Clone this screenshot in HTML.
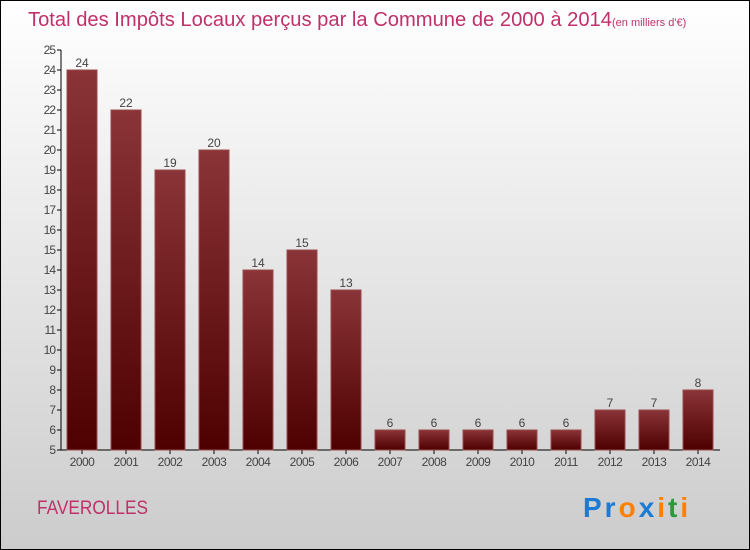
<!DOCTYPE html>
<html><head><meta charset="utf-8"><style>
body{margin:0;width:750px;height:550px;overflow:hidden}
svg{display:block}
</style></head><body>
<svg width="750" height="550" font-family="'Liberation Sans', sans-serif">
<defs>
<linearGradient id="bg" x1="0" y1="0" x2="0" y2="1"><stop offset="0" stop-color="#ffffff"/><stop offset="1" stop-color="#cccccc"/></linearGradient>
<linearGradient id="bar" x1="0" y1="0" x2="0" y2="1"><stop offset="0" stop-color="#8a3438"/><stop offset="1" stop-color="#4e0000"/></linearGradient>
</defs>
<rect x="0.5" y="0.5" width="749" height="549" fill="url(#bg)" stroke="#000"/>
<text x="28" y="26" font-size="20" fill="#c0306a"><tspan textLength="584" lengthAdjust="spacingAndGlyphs">Total des Impôts Locaux perçus par la Commune de 2000 à 2014</tspan><tspan font-size="11">(en milliers d'€)</tspan></text>
<g id="axes"></g>
<g id="bars"></g>
<text x="37" y="514" font-size="19" fill="#c0306a" textLength="111" lengthAdjust="spacingAndGlyphs">FAVEROLLES</text>
<text x="583" y="517" font-size="28" font-weight="bold" letter-spacing="3"><tspan fill="#1a7ad4">Pr</tspan><tspan fill="#ff8000">o</tspan><tspan fill="#1a7ad4">x</tspan><tspan fill="#ff8000">i</tspan><tspan fill="#2a9a3a">t</tspan><tspan fill="#ff8000">i</tspan></text>
</svg>
<script>
const years=["2000","2001","2002","2003","2004","2005","2006","2007","2008","2009","2010","2011","2012","2013","2014"];
const values=[24,22,19,20,14,15,13,6,6,6,6,6,7,7,8];
const yTicks=[5,6,7,8,9,10,11,12,13,14,15,16,17,18,19,20,21,22,23,24,25];
const NS="http://www.w3.org/2000/svg";
const y=v=>450-(v-5)*20;
const x=i=>82+i*44;
function mk(t,a,p){const e=document.createElementNS(NS,t);for(const k in a)e.setAttribute(k,a[k]);p.appendChild(e);return e;}
const ax=document.getElementById('axes'),bg=document.getElementById('bars');
let l=mk('line',{x1:61,y1:50,x2:61,y2:450,stroke:'#000'},ax);


l=mk('line',{x1:61,y1:450,x2:720,y2:450,stroke:'#000'},ax);


yTicks.forEach(v=>{
 mk('line',{x1:57,y1:y(v),x2:61,y2:y(v),stroke:'#000'},ax);
 const t=mk('text',{x:55,y:y(v)+4,'font-size':12,fill:'#444','text-anchor':'end','letter-spacing':'-1'},ax);
 t.textContent=v;
 
 
});
years.forEach((yr,i)=>{
 mk('line',{x1:x(i),y1:450,x2:x(i),y2:454,stroke:'#000'},ax);
 const t=mk('text',{x:x(i),y:466,'font-size':12,fill:'#444','text-anchor':'middle','letter-spacing':'-0.5'},ax);
 t.textContent=yr;
 
 
 const r=mk('rect',{x:x(i)-15,y:y(values[i]),width:30,height:450-y(values[i]),fill:'url(#bar)',stroke:'#9a4a4e','stroke-width':1},bg);
 
 
 const vl=mk('text',{x:x(i),y:y(values[i])-3,'font-size':12,fill:'#444','text-anchor':'middle'},bg);
 vl.textContent=values[i];
 
 
});
</script>
</body></html>
